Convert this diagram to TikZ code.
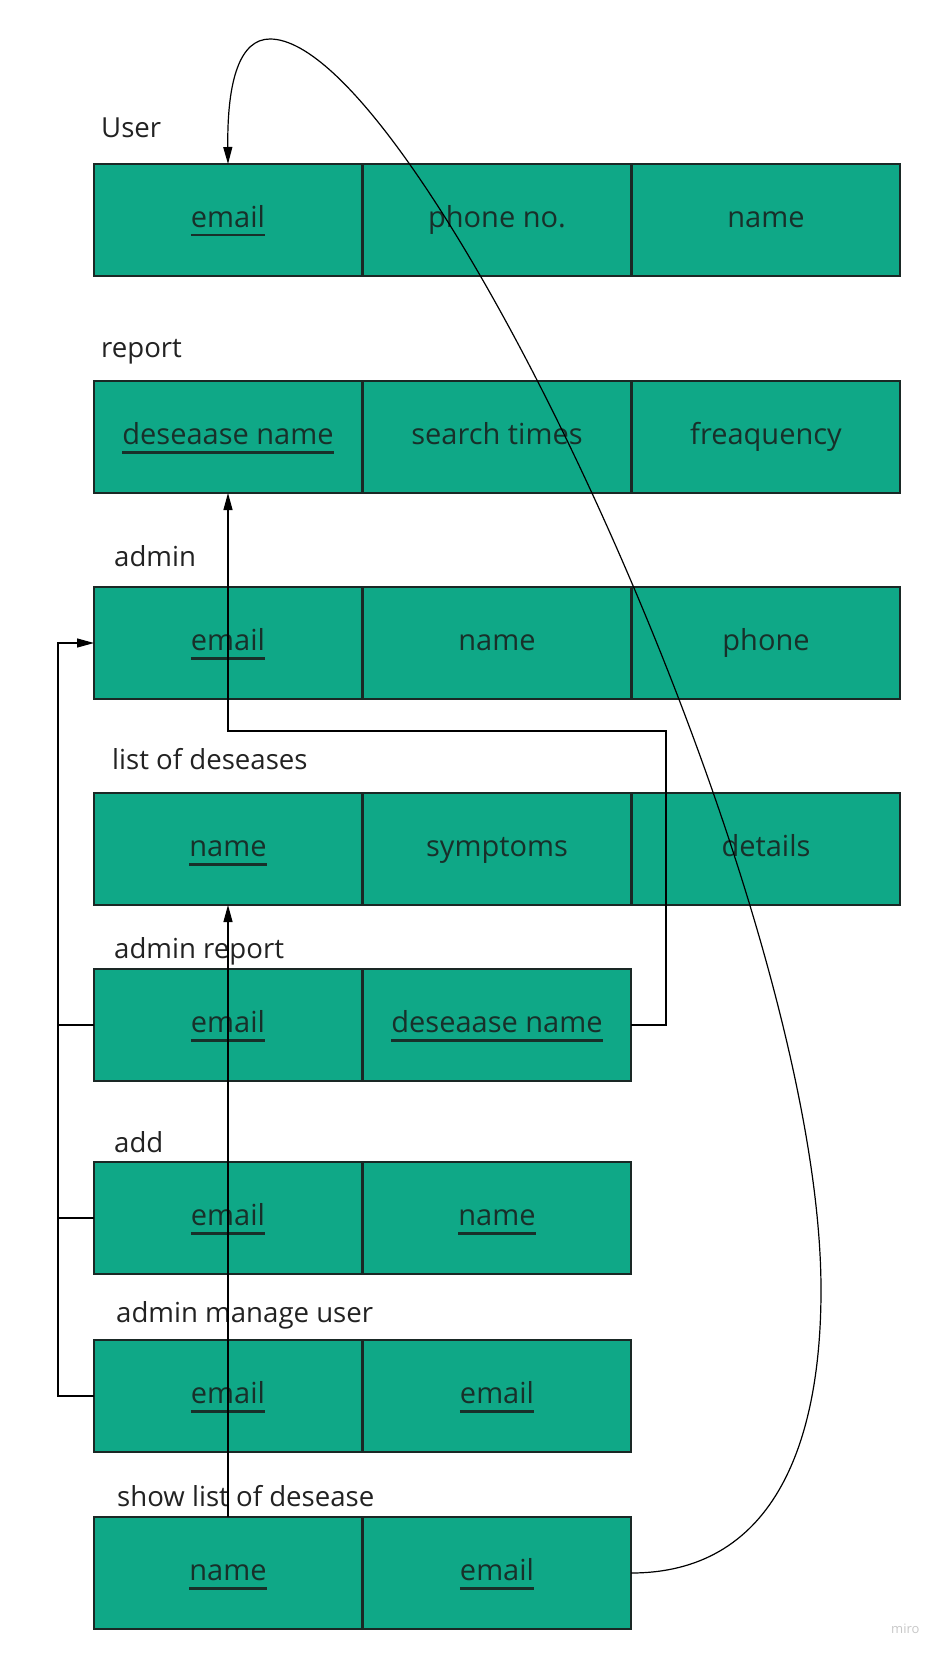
\documentclass[tikz,border=0pt]{standalone}
\usepackage{fontspec}
\setmainfont{Open Sans}
\usetikzlibrary{arrows.meta}
\definecolor{cellfill}{HTML}{0FA887}
\definecolor{cellline}{HTML}{1A2825}
\definecolor{celltext}{HTML}{18302A}
\definecolor{titletext}{HTML}{222222}
\newsavebox{\keybox}
\newcommand{\ukey}[1]{\sbox\keybox{#1}\rlap{\rule[-9pt]{\wd\keybox}{2.2pt}}\usebox\keybox}

\begin{document}
\begin{tikzpicture}[x = 1pt, y = -1pt,
    cell/.style = {draw = cellline, line width = 2.6pt, fill = cellfill, text = celltext,
      anchor = north west, minimum width = 268pt, minimum height = 112pt,
      inner sep = 0pt, outer sep = 0pt, text height = 21pt, text depth = 6pt,
      font = \fontsize{29}{34}\selectfont},
    title/.style = {anchor = base west, inner sep = 0pt, text = titletext,
      font = \fontsize{27.6}{33}\selectfont},
    conn/.style = {line width = 1.2pt},
    > = {Triangle[length = 17pt, width = 9pt]}]
    \useasboundingbox (0,0) rectangle (943,1656);
    % User
    \node[title] (tuser) at (101,138) {User};
    \node[cell] (uemail) at (94,164) {\ukey{email}};
    \node[cell] (uphone) at (363,164) {phone no.};
    \node[cell] (uname) at (632,164) {name};
    % report
    \node[title] (treport) at (101,357) {report};
    \node[cell] (rdname) at (94,381) {\ukey{deseaase name}};
    \node[cell] (rtimes) at (363,381) {search times};
    \node[cell] (rfreq) at (632,381) {freaquency};
    % admin
    \node[title] (tadmin) at (114,566) {admin};
    \node[cell] (aemail) at (94,587) {\ukey{email}};
    \node[cell] (aname) at (363,587) {name};
    \node[cell] (aphone) at (632,587) {phone};
    % list of deseases
    \node[title] (tlist) at (112,769) {list of deseases};
    \node[cell] (lname) at (94,793) {\ukey{name}};
    \node[cell] (lsympt) at (363,793) {symptoms};
    \node[cell] (ldetail) at (632,793) {details};
    % admin report
    \node[title] (tareport) at (114,958) {admin report};
    \node[cell] (aremail) at (94,969) {\ukey{email}};
    \node[cell] (ardname) at (363,969) {\ukey{deseaase name}};
    % add
    \node[title] (tadd) at (114,1152) {add};
    \node[cell] (dmail) at (94,1162) {\ukey{email}};
    \node[cell] (dname) at (363,1162) {\ukey{name}};
    % admin manage user
    \node[title] (tmanage) at (116,1322) {admin manage user};
    \node[cell] (memail) at (94,1340) {\ukey{email}};
    \node[cell] (muser) at (363,1340) {\ukey{email}};
    % show list of desease
    \node[title] (tshow) at (117,1506) {show list of desease};
    \node[cell] (sname) at (94,1517) {\ukey{name}};
    \node[cell] (semail) at (363,1517) {\ukey{email}};
    \node[anchor = base west, inner sep = 0pt, text = black!22,
      font = \fontsize{13}{15}\selectfont] (miro) at (891,1633) {miro};
    % Connectors
    \coordinate (bus) at (58,0);
    \coordinate (rbend) at (666,731);
    \coordinate (loopright) at (821,1290);
    \coordinate (looptop) at (270,39);
    \draw[conn, ->] (memail.west) -- (memail.west -| bus) |- (aemail.west);
    \draw[conn] (aremail.west) -- (aremail.west -| bus);
    \draw[conn] (dmail.west) -- (dmail.west -| bus);
    \draw[conn, ->] (ardname.east) -| (rbend) -| (rdname.south);
    \draw[conn, ->] (sname.north) -- (lname.south);
    \draw[conn, ->] (semail.east) .. controls (770,1573) and (821,1450) .. (loopright)
      .. controls (821,890) and (420,39) .. (looptop)
      .. controls (240,39) and (227,80) .. (uemail.north);
\end{tikzpicture}
\end{document}
